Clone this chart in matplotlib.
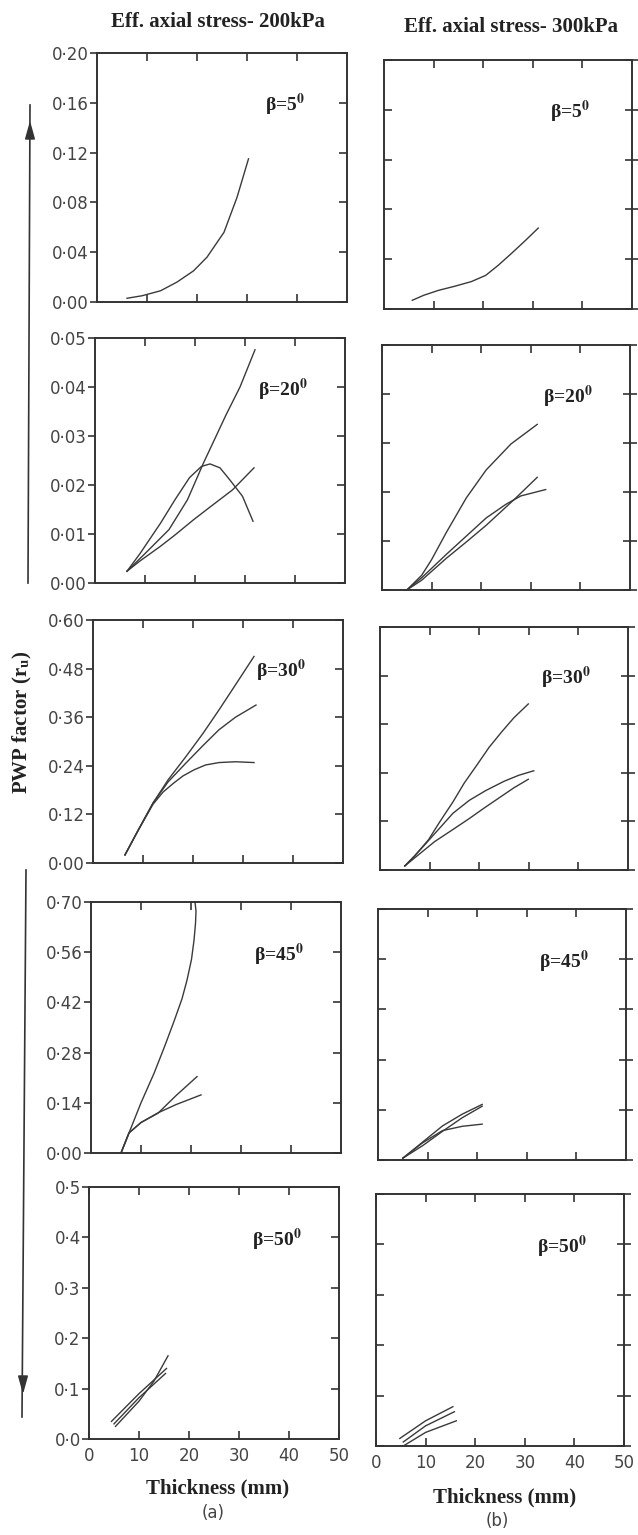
import matplotlib
matplotlib.use("Agg")
import matplotlib.pyplot as plt
from matplotlib.patches import FancyArrowPatch
from matplotlib.lines import Line2D

plt.rcParams['mathtext.fontset'] = 'stix'

W, H = 638, 1535

# column titles and panel labels
col_titles = ['Eff. axial stress- 200kPa', 'Eff. axial stress- 300kPa']
betas = ['5', '20', '30', '45', '50']
sub_labels = ['(a)', '(b)']
x_label = 'Thickness (mm)'
y_label = r'PWP factor (r$_{\mathbf{u}}$)'

# y axis ranges / ticks per row
y_max = [0.20, 0.05, 0.60, 0.70, 0.5]
y_ticks = [
    [0.00, 0.04, 0.08, 0.12, 0.16, 0.20],
    [0.00, 0.01, 0.02, 0.03, 0.04, 0.05],
    [0.00, 0.12, 0.24, 0.36, 0.48, 0.60],
    [0.00, 0.14, 0.28, 0.42, 0.56, 0.70],
    [0.0, 0.1, 0.2, 0.3, 0.4, 0.5],
]
y_fmt = ['{:.2f}', '{:.2f}', '{:.2f}', '{:.2f}', '{:.1f}']
x_ticks = [0, 10, 20, 30, 40, 50]

# --- curves: (thickness mm, r_u) ---
# beta = 5
b5_200_x = [6, 9, 12.7, 16, 19.3, 22, 25.4, 28, 30.3]
b5_200_y = [0.003, 0.005, 0.009, 0.016, 0.025, 0.036, 0.056, 0.084, 0.115]
b5_300_x = [5.7, 8, 11, 14, 17.6, 20.5, 23, 25.8, 28.5, 31.1]
b5_300_y = [0.007, 0.011, 0.015, 0.018, 0.022, 0.027, 0.035, 0.045, 0.055, 0.065]

# beta = 20
b20_200a_x = [6.4, 10, 14.8, 18.5, 21.7, 24, 26.2, 29, 32]
b20_200a_y = [0.0024, 0.006, 0.0109, 0.017, 0.0245, 0.0295, 0.0343, 0.040, 0.0476]
b20_200b_x = [6.4, 9, 13.1, 16, 18.9, 21.3, 23, 25, 27, 29.5, 31.6]
b20_200b_y = [0.0024, 0.006, 0.0122, 0.017, 0.0215, 0.0238, 0.0243, 0.0235, 0.021, 0.0177, 0.0126]
b20_200c_x = [6.4, 9, 13.1, 16, 19.7, 23, 27.5, 31.8]
b20_200c_y = [0.0024, 0.0045, 0.0075, 0.0098, 0.0129, 0.0155, 0.019, 0.0235]
b20_300a_x = [5, 8, 10, 13, 17, 21, 26, 31.3]
b20_300a_y = [0.0, 0.003, 0.0062, 0.0118, 0.0188, 0.0245, 0.0298, 0.0338]
b20_300b_x = [5, 8, 13, 17, 21, 25, 28, 33]
b20_300b_y = [0.0, 0.0025, 0.0073, 0.011, 0.0147, 0.0175, 0.0192, 0.0205]
b20_300c_x = [5, 8, 13, 17, 21, 24, 27, 31.3]
b20_300c_y = [0.0, 0.002, 0.0065, 0.0098, 0.0132, 0.016, 0.0188, 0.023]

# beta = 30
b30_200a_x = [6.4, 9, 12, 15, 18.6, 22, 25.2, 28.5, 32.2]
b30_200a_y = [0.02, 0.08, 0.148, 0.205, 0.263, 0.32, 0.378, 0.44, 0.51]
b30_200b_x = [6.4, 9, 12, 15, 18.6, 22, 25.2, 28.5, 32.6]
b30_200b_y = [0.02, 0.08, 0.148, 0.20, 0.247, 0.29, 0.329, 0.36, 0.39]
b30_200c_x = [6.4, 9, 12, 14, 16.1, 18, 20.2, 22.5, 25.2, 28.5, 32.2]
b30_200c_y = [0.02, 0.08, 0.145, 0.175, 0.197, 0.215, 0.23, 0.242, 0.248, 0.25, 0.248]
b30_300a_x = [5, 7, 9.8, 12, 14.7, 17, 19.7, 22, 24.6, 27, 29.9]
b30_300a_y = [0.01, 0.035, 0.075, 0.118, 0.168, 0.215, 0.262, 0.303, 0.342, 0.376, 0.41]
b30_300b_x = [5, 7, 9, 12, 14.7, 18, 21.3, 25, 28, 31]
b30_300b_y = [0.01, 0.035, 0.062, 0.103, 0.14, 0.172, 0.196, 0.219, 0.234, 0.245]
b30_300c_x = [5, 8.2, 11, 14.7, 18, 21, 24, 27, 29.9]
b30_300c_y = [0.01, 0.042, 0.07, 0.1, 0.127, 0.153, 0.178, 0.203, 0.224]

# beta = 45
b45_200a_x = [6, 7.6, 10, 12.6, 14.8, 16.7, 18.2, 19.2, 20.1, 20.6, 20.9, 21.0, 20.8]
b45_200a_y = [0.0, 0.056, 0.14, 0.222, 0.30, 0.371, 0.43, 0.482, 0.54, 0.593, 0.64, 0.675, 0.70]
b45_200b_x = [6, 7.6, 10, 13.4, 17, 21.2]
b45_200b_y = [0.0, 0.056, 0.085, 0.111, 0.16, 0.213]
b45_200c_x = [6, 7.6, 10, 13.4, 17, 22]
b45_200c_y = [0.0, 0.056, 0.085, 0.112, 0.135, 0.162]
b45_300a_x = [5, 9, 13, 17, 21]
b45_300a_y = [0.005, 0.05, 0.095, 0.128, 0.155]
b45_300b_x = [5, 9, 13, 17, 21]
b45_300b_y = [0.005, 0.04, 0.08, 0.118, 0.15]
b45_300c_x = [5, 9, 13, 17, 21]
b45_300c_y = [0.005, 0.048, 0.082, 0.094, 0.10]

# beta = 50
b50_200a_x = [4.5, 10, 15.5]
b50_200a_y = [0.035, 0.09, 0.14]
b50_200b_x = [5.3, 10, 13, 15.8]
b50_200b_y = [0.025, 0.075, 0.115, 0.165]
b50_200c_x = [5, 10, 15.3]
b50_200c_y = [0.03, 0.082, 0.13]
b50_300a_x = [4.8, 10, 15.5]
b50_300a_y = [0.015, 0.05, 0.078]
b50_300b_x = [5.5, 10, 15.8]
b50_300b_y = [0.008, 0.04, 0.068]
b50_300c_x = [5.5, 10, 16.2]
b50_300c_y = [0.0, 0.027, 0.05]

curves = [
    [[(b5_200_x, b5_200_y)],
     [(b5_300_x, b5_300_y)]],
    [[(b20_200a_x, b20_200a_y), (b20_200b_x, b20_200b_y), (b20_200c_x, b20_200c_y)],
     [(b20_300a_x, b20_300a_y), (b20_300b_x, b20_300b_y), (b20_300c_x, b20_300c_y)]],
    [[(b30_200a_x, b30_200a_y), (b30_200b_x, b30_200b_y), (b30_200c_x, b30_200c_y)],
     [(b30_300a_x, b30_300a_y), (b30_300b_x, b30_300b_y), (b30_300c_x, b30_300c_y)]],
    [[(b45_200a_x, b45_200a_y), (b45_200b_x, b45_200b_y), (b45_200c_x, b45_200c_y)],
     [(b45_300a_x, b45_300a_y), (b45_300b_x, b45_300b_y), (b45_300c_x, b45_300c_y)]],
    [[(b50_200a_x, b50_200a_y), (b50_200b_x, b50_200b_y), (b50_200c_x, b50_200c_y)],
     [(b50_300a_x, b50_300a_y), (b50_300b_x, b50_300b_y), (b50_300c_x, b50_300c_y)]],
]

fig = plt.figure(figsize=(W / 100, H / 100), dpi=100)

ink = '#333333'
serif = ['Liberation Serif', 'DejaVu Serif']
rows_px = [(53, 302), (338, 583), (620, 863), (902, 1153), (1187, 1439)]


def px_box(x0, y0, w, h):
    return [x0 / W, 1 - (y0 + h) / H, w / W, h / H]


for r in range(5):
    top, bot = rows_px[r]
    for c in range(2):
        if c == 0:
            x0, w, dy = 97 - 2 * r, 250, 0
        else:
            x0, w, dy = 384 - 2 * r, 248, 7
        ax = fig.add_axes(px_box(x0, top + dy, w, bot - top))
        for xs, ys in curves[r][c]:
            ax.plot(xs, ys, color='#3a3a3a', lw=1.0)
        ax.set_xlim(0, 50)
        ax.set_ylim(0, y_max[r])
        for s in ax.spines.values():
            s.set_color(ink)
            s.set_linewidth(1.4)
        ax.set_yticks(y_ticks[r])
        if r == 4:
            ax.set_xticks(x_ticks)
            ax.set_xticklabels([str(t) for t in x_ticks])
        else:
            ax.set_xticks(x_ticks[1:-1])
            ax.set_xticklabels([])
        ax.tick_params(axis='x', which='both', direction='in', top=True, bottom=True,
                       length=6, width=1.2, color=ink, labelsize=12, labelcolor='#444444', pad=6)
        if c == 0:
            ax.set_yticklabels([y_fmt[r].format(t).replace('.', '\u00b7') for t in y_ticks[r]])
            ax.tick_params(axis='y', direction='out', left=True, right=True,
                           length=5, width=1.2, color=ink, labelsize=12, labelcolor='#444444', pad=1)
            for t in ax.yaxis.get_major_ticks():
                t.tick2line.set_marker(matplotlib.markers.TICKLEFT)
                t.tick2line.set_markersize(6)
        else:
            ax.set_yticklabels([])
            ax.tick_params(axis='y', direction='in', left=True, right=True,
                           length=6, width=1.2, color=ink)
            for t in ax.yaxis.get_major_ticks():
                t.tick2line.set_marker('_')
                t.tick2line.set_markersize(10)
        ax.text(0.75, 0.79, '\u03b2=' + betas[r] + r'$^{\mathbf{0}}$', transform=ax.transAxes,
                ha='center', va='center', fontsize=14, fontweight='bold', family=serif,
                color='#222222')


def ftext(x, y, s, **kw):
    fig.text(x / W, 1 - y / H, s, **kw)


ftext(218, 22, col_titles[0], ha='center', va='center', fontsize=15, fontweight='bold',
      family=serif, color='#222222')
ftext(511, 27, col_titles[1], ha='center', va='center', fontsize=15, fontweight='bold',
      family=serif, color='#222222')
ftext(218, 1488, x_label, ha='center', va='center', fontsize=15, fontweight='bold',
      family=serif, color='#222222')
ftext(505, 1497, x_label, ha='center', va='center', fontsize=15, fontweight='bold',
      family=serif, color='#222222')
ftext(213, 1513, sub_labels[0], ha='center', va='center', fontsize=12, color='#444444')
ftext(497, 1521, sub_labels[1], ha='center', va='center', fontsize=12, color='#444444')
ftext(22, 722, y_label, ha='center', va='center', rotation=90, fontsize=15,
      fontweight='bold', family=serif, color='#222222')


def fpt(x, y):
    return (x / W, 1 - y / H)


# arrows along the left margin
for (xa, ya), (xb, yb) in [((30, 105), (28, 583)), ((26, 870), (22, 1417))]:
    fig.add_artist(Line2D([xa / W, xb / W], [1 - ya / H, 1 - yb / H],
                          transform=fig.transFigure, color=ink, lw=1.2))
fig.add_artist(FancyArrowPatch(fpt(30, 140), fpt(30, 118), transform=fig.transFigure,
                               arrowstyle='-|>,head_length=0.9,head_width=0.25',
                               mutation_scale=12, color=ink, lw=1.2))
fig.add_artist(FancyArrowPatch(fpt(23, 1375), fpt(23, 1397), transform=fig.transFigure,
                               arrowstyle='-|>,head_length=0.9,head_width=0.25',
                               mutation_scale=12, color=ink, lw=1.2))

fig.savefig('out.png', dpi=100)
